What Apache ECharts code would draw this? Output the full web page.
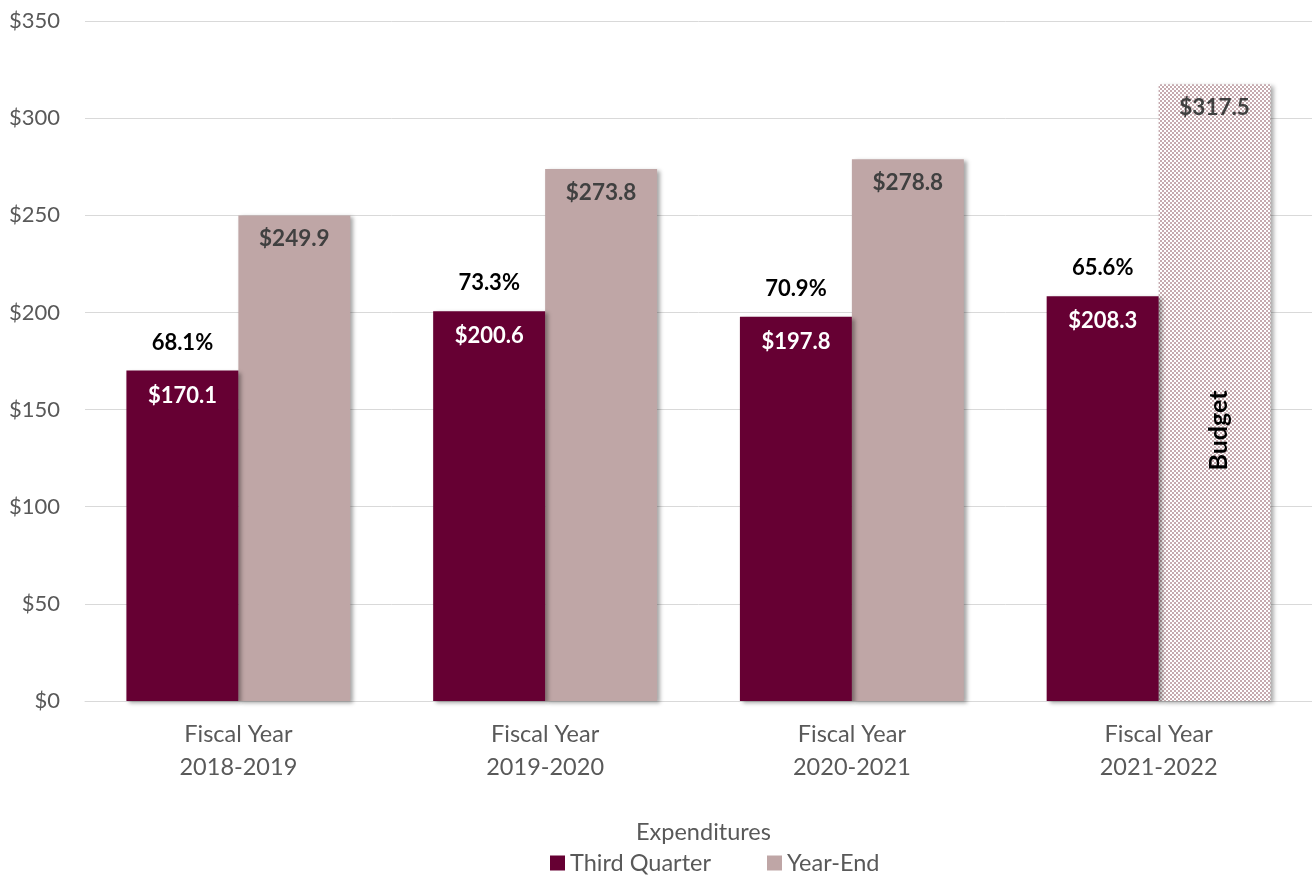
<!DOCTYPE html>
<html>
<head>
<meta charset="utf-8">
<title>Expenditures</title>
<script src="https://cdn.jsdelivr.net/npm/echarts@6/dist/echarts.min.js"></script>
<style>
  html, body { margin: 0; padding: 0; background: #fff; }
  #chart { width: 1312px; height: 875px; }
</style>
</head>
<body>
<div id="chart"></div>
<script>
// Expenditures in millions of dollars
const categories = ['Fiscal Year\n2018-2019', 'Fiscal Year\n2019-2020', 'Fiscal Year\n2020-2021', 'Fiscal Year\n2021-2022'];
const thirdQuarter = [170.1, 200.6, 197.8, 208.3];
const yearEnd = [249.9, 273.8, 278.8, 317.5];
const budgetIndex = 3; // last year-end figure is the budget, not actuals
const yTicks = { min: 0, max: 350, interval: 50 };

const FONT = 'Lato, "Open Sans", sans-serif';
const TQ_COLOR = '#660033';
const YE_COLOR = '#bfa6a6';

// small checkerboard tile for the budget bar
function checkerTile() {
  const c = document.createElement('canvas');
  c.width = 4; c.height = 4;
  const g = c.getContext('2d');
  g.fillStyle = '#ffffff';
  g.fillRect(0, 0, 4, 4);
  g.fillStyle = '#c6aaaf';
  g.fillRect(0, 0, 2, 2);
  g.fillRect(2, 2, 2, 2);
  return c;
}

const fmt = v => '$' + v.toFixed(1);
const pct = i => (thirdQuarter[i] / yearEnd[i] * 100).toFixed(1) + '%';

const shadow = {
  shadowColor: 'rgba(0,0,0,0.35)',
  shadowBlur: 4,
  shadowOffsetX: 3,
  shadowOffsetY: 2
};

const chart = echarts.init(document.getElementById('chart'), null, { renderer: 'canvas' });

chart.setOption({
  animation: false,
  textStyle: { fontFamily: FONT },
  title: {
    text: 'Expenditures',
    left: 631,
    top: 815,
    textStyle: { fontFamily: FONT, fontSize: 23.5, fontWeight: 'normal', color: '#595959' }
  },
  legend: {
    top: 851,
    left: 550,
    padding: 0,
    itemWidth: 15,
    itemHeight: 15,
    itemGap: 56,
    icon: 'rect',
    textStyle: { fontFamily: FONT, fontSize: 23.5, color: '#595959' },
    data: ['Third Quarter', 'Year-End']
  },
  grid: { left: 85, right: 0, top: 21, bottom: 174, containLabel: false },
  xAxis: {
    type: 'category',
    data: categories,
    axisTick: { show: false },
    axisLine: { lineStyle: { color: '#d9d9d9', width: 1 } },
    axisLabel: { color: '#595959', fontSize: 23.5, fontFamily: FONT, lineHeight: 33, margin: 17 }
  },
  yAxis: {
    type: 'value',
    min: yTicks.min,
    max: yTicks.max,
    interval: yTicks.interval,
    axisLine: { show: false },
    axisTick: { show: false },
    splitLine: { lineStyle: { color: '#d9d9d9', width: 1 } },
    axisLabel: {
      color: '#595959', fontSize: 22, fontFamily: FONT, margin: 25,
      formatter: v => '$' + v
    }
  },
  series: [
    {
      name: 'Third Quarter',
      type: 'bar',
      barGap: '0%',
      barCategoryGap: '27%',
      z: 3,
      itemStyle: Object.assign({ color: TQ_COLOR }, shadow),
      data: thirdQuarter,
      label: {
        show: true,
        position: ['50%', -45],
        align: 'center',
        verticalAlign: 'top',
        formatter: p => '{p|' + pct(p.dataIndex) + '}\n{s| }\n{v|' + fmt(p.value) + '}',
        rich: {
          p: { fontFamily: FONT, fontSize: 22, fontWeight: 'bold', color: '#000000', lineHeight: 34, align: 'center' },
          s: { fontSize: 10, lineHeight: 20 },
          v: { fontFamily: FONT, fontSize: 22, fontWeight: 'bold', color: '#ffffff', lineHeight: 32, align: 'center' }
        }
      }
    },
    {
      name: 'Year-End',
      type: 'bar',
      z: 2,
      itemStyle: Object.assign({ color: YE_COLOR }, shadow),
      data: yearEnd.map((v, i) => i === budgetIndex
        ? { value: v, itemStyle: { color: { image: checkerTile(), repeat: 'repeat' } } }
        : v),
      label: {
        show: true,
        position: 'insideTop',
        distance: 12,
        fontFamily: FONT,
        fontSize: 22.5,
        fontWeight: 'bold',
        color: '#404040',
        formatter: p => fmt(p.value)
      }
    }
  ]
});

// "Budget" caption written up the middle of the budget bar
(function addBudgetCaption() {
  const layout = chart.getModel().getSeriesByIndex(1).getData().getItemLayout(budgetIndex);
  if (!layout) return;
  const cx = layout.x + layout.width / 2 + 4;
  const cy = layout.y + layout.height / 2 + 38;
  chart.setOption({
    graphic: [{
      type: 'text',
      x: cx,
      y: cy,
      rotation: Math.PI / 2,
      z: 10,
      style: {
        text: 'Budget',
        fontFamily: FONT,
        fontSize: 25,
        fontWeight: 'bold',
        fill: '#000000',
        align: 'center',
        verticalAlign: 'middle'
      }
    }]
  });
})();
</script>
</body>
</html>
